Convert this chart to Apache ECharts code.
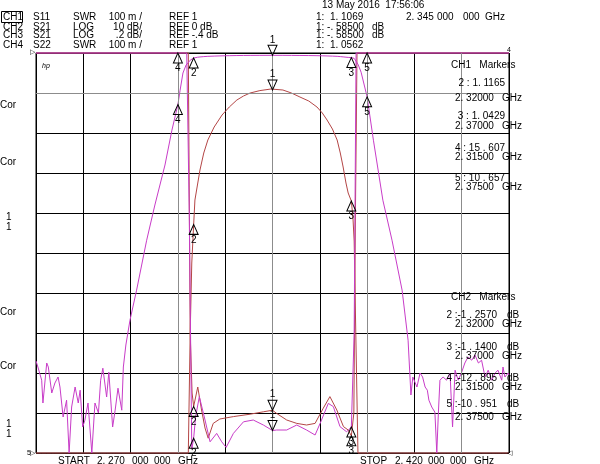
<!DOCTYPE html>
<html>
<head>
<meta charset="utf-8">
<script src="https://cdn.jsdelivr.net/npm/echarts@6/dist/echarts.min.js"></script>
<style>
html, body { margin: 0; padding: 0; background: #fff; }
#chart { width: 600px; height: 464px; }
</style>
</head>
<body>
<div id="chart"></div>
<script>
// 中心频率 (MHz)
var CENTER_MHZ = 2345;

// S21, CH2 (LOG 10 dB/div) 和 CH3 (LOG .2 dB/div) 共用同一测量
var s21Freq = [2270.0, 2270.6, 2271.8, 2272.2, 2273.4, 2273.9, 2275.0, 2276.0, 2277.0, 2277.6,
  2278.6, 2279.7, 2280.5, 2281.3, 2282.4, 2283.4, 2284.0, 2284.8, 2285.5, 2286.5,
  2287.7, 2288.7, 2289.8, 2290.5, 2291.2, 2292.4, 2293.1, 2294.3, 2295.1, 2296.0,
  2297.2, 2297.7, 2298.5, 2299.8, 2301.9, 2305.1, 2307.7, 2310.9, 2313.1, 2315.0,
  2315.7, 2316.6, 2317.6, 2318.3, 2318.9, 2319.4, 2320.0, 2320.4, 2321.2, 2322.0,
  2323.2, 2324.5, 2326.5, 2329.0, 2331.3, 2333.7, 2335.8, 2337.9, 2341.0, 2344.5,
  2345.0, 2348.3, 2351.0, 2353.7, 2356.5, 2359.1, 2360.8, 2362.3, 2364.0, 2365.5,
  2366.5, 2367.4, 2368.3, 2369.0, 2370.0, 2370.5, 2370.9, 2371.3, 2372.1, 2373.1,
  2375.0, 2377.0, 2380.0, 2382.9, 2386.1, 2388.0, 2388.9, 2389.5, 2390.8, 2391.8,
  2392.6, 2393.4, 2394.1, 2394.6, 2395.5, 2396.5, 2397.1, 2397.6, 2398.1, 2399.1,
  2400.2, 2401.3, 2402.1, 2402.9, 2403.9, 2405.0, 2406.0, 2407.0, 2408.2, 2409.2,
  2410.3, 2411.3, 2412.4, 2413.4, 2414.5, 2415.6, 2416.5, 2417.7, 2418.1, 2418.7,
  2419.7, 2420.0];
var s21Db = [-77.0, -78.5, -81.8, -87.5, -77.5, -78.5, -85.0, -82.5, -81.0, -83.5,
  -91.0, -86.8, -100.0, -88.5, -83.5, -87.5, -84.3, -93.5, -91.8, -87.5,
  -100.0, -87.5, -90.0, -81.8, -78.8, -86.0, -79.8, -93.5, -89.3, -83.8,
  -89.3, -78.5, -73.0, -66.8, -59.3, -46.8, -38.0, -28.0, -19.3, -12.895,
  -9.3, -5.0, -3.0, -2.4, -1.8, -1.45, -1.257, -1.135, -1.06, -0.985,
  -0.90, -0.835, -0.77, -0.71, -0.67, -0.635, -0.615, -0.60, -0.588, -0.58,
  -0.585, -0.585, -0.60, -0.62, -0.64, -0.67, -0.70, -0.735, -0.78, -0.835,
  -0.90, -0.97, -1.05, -1.10, -1.14, -1.22, -1.34, -1.70, -2.8, -4.8,
  -10.951, -21.8, -36.8, -46.8, -59.3, -71.8, -85.5, -81.0, -83.5, -80.0,
  -81.0, -83.5, -84.3, -86.8, -88.5, -89.8, -100.0, -90.0, -81.8, -81.0,
  -81.8, -80.0, -93.5, -79.3, -81.8, -79.8, -77.5, -76.0, -76.8, -75.5,
  -77.5, -76.8, -81.0, -79.3, -81.8, -80.0, -79.3, -81.8, -78.5, -81.0,
  -80.0, -80.5];

// S11 SWR (CH1)
var s11Freq = [2270.0, 2315.0, 2317.6, 2318.3, 2318.9, 2319.5, 2320.0, 2321.3, 2322.5, 2323.6,
  2324.6, 2326.2, 2328.3, 2332.6, 2337.9, 2342.1, 2345.0, 2346.3, 2349.5, 2352.7,
  2355.8, 2358.5, 2361.1, 2363.2, 2365.4, 2367.5, 2369.0, 2370.0, 2370.8, 2371.3,
  2371.8, 2375.0, 2420.0];
var s11Swr = [20.0, 15.607, 6.0, 2.2, 1.3, 1.15, 1.1165, 1.165, 1.1075, 1.0625,
  1.037, 1.074, 1.085, 1.091, 1.097, 1.103, 1.1069, 1.099, 1.0825, 1.074,
  1.070, 1.074, 1.112, 1.141, 1.1075, 1.066, 1.0575, 1.0429, 1.10, 1.6,
  4.0, 10.657, 20.0];

// S22 SWR (CH4)
var s22Freq = [2270.0, 2317.8, 2318.6, 2319.4, 2319.8, 2320.0, 2320.6, 2321.8, 2323.6, 2325.2,
  2327.3, 2328.9, 2330.3, 2332.6, 2335.8, 2338.9, 2342.1, 2345.0, 2346.3, 2349.5,
  2352.7, 2355.8, 2358.5, 2360.1, 2362.7, 2364.3, 2366.4, 2368.5, 2370.0, 2370.9,
  2371.5, 2420.0];
var s22Swr = [20.0, 5.0, 1.6, 1.01, 1.005, 1.037, 1.09, 1.141, 1.0825, 1.028,
  1.049, 1.028, 1.014, 1.049, 1.078, 1.0825, 1.070, 1.0562, 1.0575, 1.0575,
  1.070, 1.0575, 1.045, 1.074, 1.124, 1.116, 1.066, 1.053, 1.065, 1.3,
  3.0, 20.0];

// 标记 1..5 频率及各通道读数
var markerFreq = [2345, 2320, 2370, 2315, 2375];
var ch1Marker = [1.1069, 1.1165, 1.0429, 15.607, 10.657];
var ch2Marker = [-0.585, -1.257, -1.14, -12.895, -10.951];
var ch3Marker = [-0.585, -1.257, -1.14];
var ch4Marker = [1.0562, 1.037, 1.065];

var MAGENTA = '#c83cc8';
var BROWN = '#b44646';
var FONT = '"Liberation Sans", Arial, sans-serif';

function clamp(v, lo, hi) {
    return Math.max(lo, Math.min(hi, v));
}

// 超出刻度的值压到屏幕边缘, 与分析仪显示一致
function toPoints(freq, vals, lo, hi) {
    return freq.map(function (f, i) {
        return [f - CENTER_MHZ, clamp(vals[i], lo, hi)];
    });
}

function markerData(vals, lo, hi) {
    return vals.map(function (v, k) {
        var active = (k === 0);
        return {
            name: String(k + 1),
            coord: [markerFreq[k] - CENTER_MHZ, clamp(v, lo, hi)],
            symbolRotate: active ? 180 : 0,
            symbolOffset: [0, active ? -5 : 5],
            label: { position: active ? 'top' : 'bottom' }
        };
    });
}

function markPoint(vals, lo, hi) {
    return {
        symbol: 'triangle',
        symbolSize: [9, 10],
        silent: true,
        itemStyle: { color: 'rgba(255,255,255,0)', borderColor: '#000', borderWidth: 1 },
        label: { show: true, formatter: '{b}', color: '#000', fontSize: 10, fontFamily: FONT, distance: 0 },
        data: markerData(vals, lo, hi)
    };
}

function trace(name, yIdx, data, color, mp) {
    return {
        name: name,
        type: 'line',
        xAxisIndex: 0,
        yAxisIndex: yIdx,
        data: data,
        showSymbol: false,
        symbol: 'none',
        clip: false,
        lineStyle: { color: color, width: 1 },
        markPoint: mp
    };
}

function txt(x, y, s, opt) {
    opt = opt || {};
    return {
        type: 'text', x: x, y: y, z: 100, silent: true,
        style: {
            text: s, fill: '#000',
            font: opt.font || ('10px ' + FONT),
            align: opt.align || 'left',
            verticalAlign: 'middle'
        }
    };
}

var texts = [];
// 左上通道表头
var rows = [17, 27, 35.5, 45];
var hdr = [
    ['CH1', 'S11', 'SWR', '100 m /', 'REF 1'],
    ['CH2', 'S21', 'LOG', '10 dB/', 'REF 0 dB'],
    ['CH3', 'S21', 'LOG', '.2 dB/', 'REF -.4 dB'],
    ['CH4', 'S22', 'SWR', '100 m /', 'REF 1']
];
hdr.forEach(function (r, i) {
    texts.push(txt(3, rows[i], r[0]));
    texts.push(txt(33, rows[i], r[1]));
    texts.push(txt(73, rows[i], r[2]));
    texts.push(txt(142, rows[i], r[3], { align: 'right' }));
    texts.push(txt(169, rows[i], r[4]));
});
texts.push({ type: 'rect', z: 100, silent: true, shape: { x: 1.5, y: 11.5, width: 21, height: 11 },
    style: { fill: 'none', stroke: '#000', lineWidth: 1 } });

// 右上读数
texts.push(txt(322, 5, '13 May 2016  17:56:06'));
texts.push(txt(316, 17, '1:  1. 1069'));
texts.push(txt(406, 17, '2. 345'));
texts.push(txt(437, 17, '000'));
texts.push(txt(463, 17, '000'));
texts.push(txt(485, 17, 'GHz'));
texts.push(txt(316, 27, '1: -. 58500'));
texts.push(txt(372, 27, 'dB'));
texts.push(txt(316, 35.5, '1: -. 58500'));
texts.push(txt(372, 35.5, 'dB'));
texts.push(txt(316, 45, '1:  1. 0562'));

// CH1 Markers
texts.push(txt(451, 65, 'CH1   Markers'));
[['2 : 1. 1165', '2. 32000', 83, 98], ['3 : 1. 0429', '2. 37000', 116, 126],
 ['4 : 15 . 607', '2. 31500', 148, 157], ['5 : 10 . 657', '2. 37500', 178, 187]].forEach(function (m) {
    texts.push(txt(505, m[2], m[0], { align: 'right' }));
    texts.push(txt(455, m[3], m[1]));
    texts.push(txt(502, m[3], 'GHz'));
});
// CH2 Markers
texts.push(txt(451, 297, 'CH2   Markers'));
[['2 :-1 . 2570', '2. 32000', 315, 324], ['3 :-1 . 1400', '2. 37000', 347, 356],
 ['4 :-12 . 895', '2. 31500', 378, 387], ['5 :-10 . 951', '2. 37500', 404, 417]].forEach(function (m) {
    texts.push(txt(497, m[2], m[0], { align: 'right' }));
    texts.push(txt(507, m[2], 'dB'));
    texts.push(txt(455, m[3], m[1]));
    texts.push(txt(502, m[3], 'GHz'));
});

// 底部起止频率
texts.push(txt(58, 461, 'START'));
texts.push(txt(97, 461, '2. 270'));
texts.push(txt(132, 461, '000'));
texts.push(txt(154, 461, '000'));
texts.push(txt(178, 461, 'GHz'));
texts.push(txt(360, 461, 'STOP'));
texts.push(txt(395, 461, '2. 420'));
texts.push(txt(428, 461, '000'));
texts.push(txt(450, 461, '000'));
texts.push(txt(474, 461, 'GHz'));

// 左侧标注
[105, 162, 312, 366].forEach(function (y) { texts.push(txt(0, y, 'Cor')); });
[217, 227, 424, 434].forEach(function (y) { texts.push(txt(6, y, '1')); });
texts.push(txt(42, 66, 'hp', { font: 'italic 7px ' + FONT }));
texts.push(txt(30, 52, '\u25B7', { font: '7px ' + FONT }));
texts.push(txt(30, 453, '\u25B7', { font: '7px ' + FONT }));
texts.push(txt(27, 453, '5', { font: '7px ' + FONT }));
texts.push(txt(507, 50, '4', { font: '7px ' + FONT }));
texts.push(txt(507, 453, '\u25C1', { font: '7px ' + FONT }));

var hiddenAxis = { axisLine: { show: false }, axisTick: { show: false }, axisLabel: { show: false }, splitLine: { show: false } };
var gridLine = { show: true, lineStyle: { color: '#000', width: 1 } };

var option = {
    animation: false,
    backgroundColor: '#fff',
    grid: { left: 36, top: 53, width: 473, height: 400, show: true, borderColor: '#000', borderWidth: 1, backgroundColor: 'transparent' },
    xAxis: {
        type: 'value', min: -75, max: 75, interval: 15,
        axisLine: { show: false }, axisTick: { show: false }, axisLabel: { show: false },
        splitLine: gridLine
    },
    yAxis: [
        // CH2 10 dB/div, REF 0 dB 在顶部
        { type: 'value', min: -100, max: 0, interval: 10,
          axisLine: { show: false }, axisTick: { show: false }, axisLabel: { show: false },
          splitLine: gridLine },
        // CH3 .2 dB/div, REF -.4 dB 在顶部
        Object.assign({ type: 'value', min: -2.4, max: -0.4, show: false }, hiddenAxis),
        // SWR 100 m/div, REF 1 在底部
        Object.assign({ type: 'value', min: 1, max: 2, show: false }, hiddenAxis)
    ],
    graphic: texts,
    series: [
        trace('CH3', 1, toPoints(s21Freq, s21Db, -2.4, -0.4), BROWN, markPoint(ch3Marker, -2.4, -0.4)),
        trace('CH1', 2, toPoints(s11Freq, s11Swr, 1, 2), BROWN, markPoint(ch1Marker, 1, 2)),
        Object.assign(trace('CH2', 0, toPoints(s21Freq, s21Db, -100, 0), MAGENTA, markPoint(ch2Marker, -100, 0)), {
            markLine: {
                silent: true, symbol: ['none', 'none'], label: { show: false },
                lineStyle: { color: '#8c8c8c', type: 'solid', width: 1 },
                data: [{ xAxis: -30 }, { xAxis: 0 }, { xAxis: 30 }, { xAxis: 60 }, { yAxis: -10 }]
            }
        }),
        trace('CH4', 2, toPoints(s22Freq, s22Swr, 1, 2), MAGENTA, markPoint(ch4Marker, 1, 2))
    ]
};

var chart = echarts.init(document.getElementById('chart'));
chart.setOption(option);
</script>
</body>
</html>
